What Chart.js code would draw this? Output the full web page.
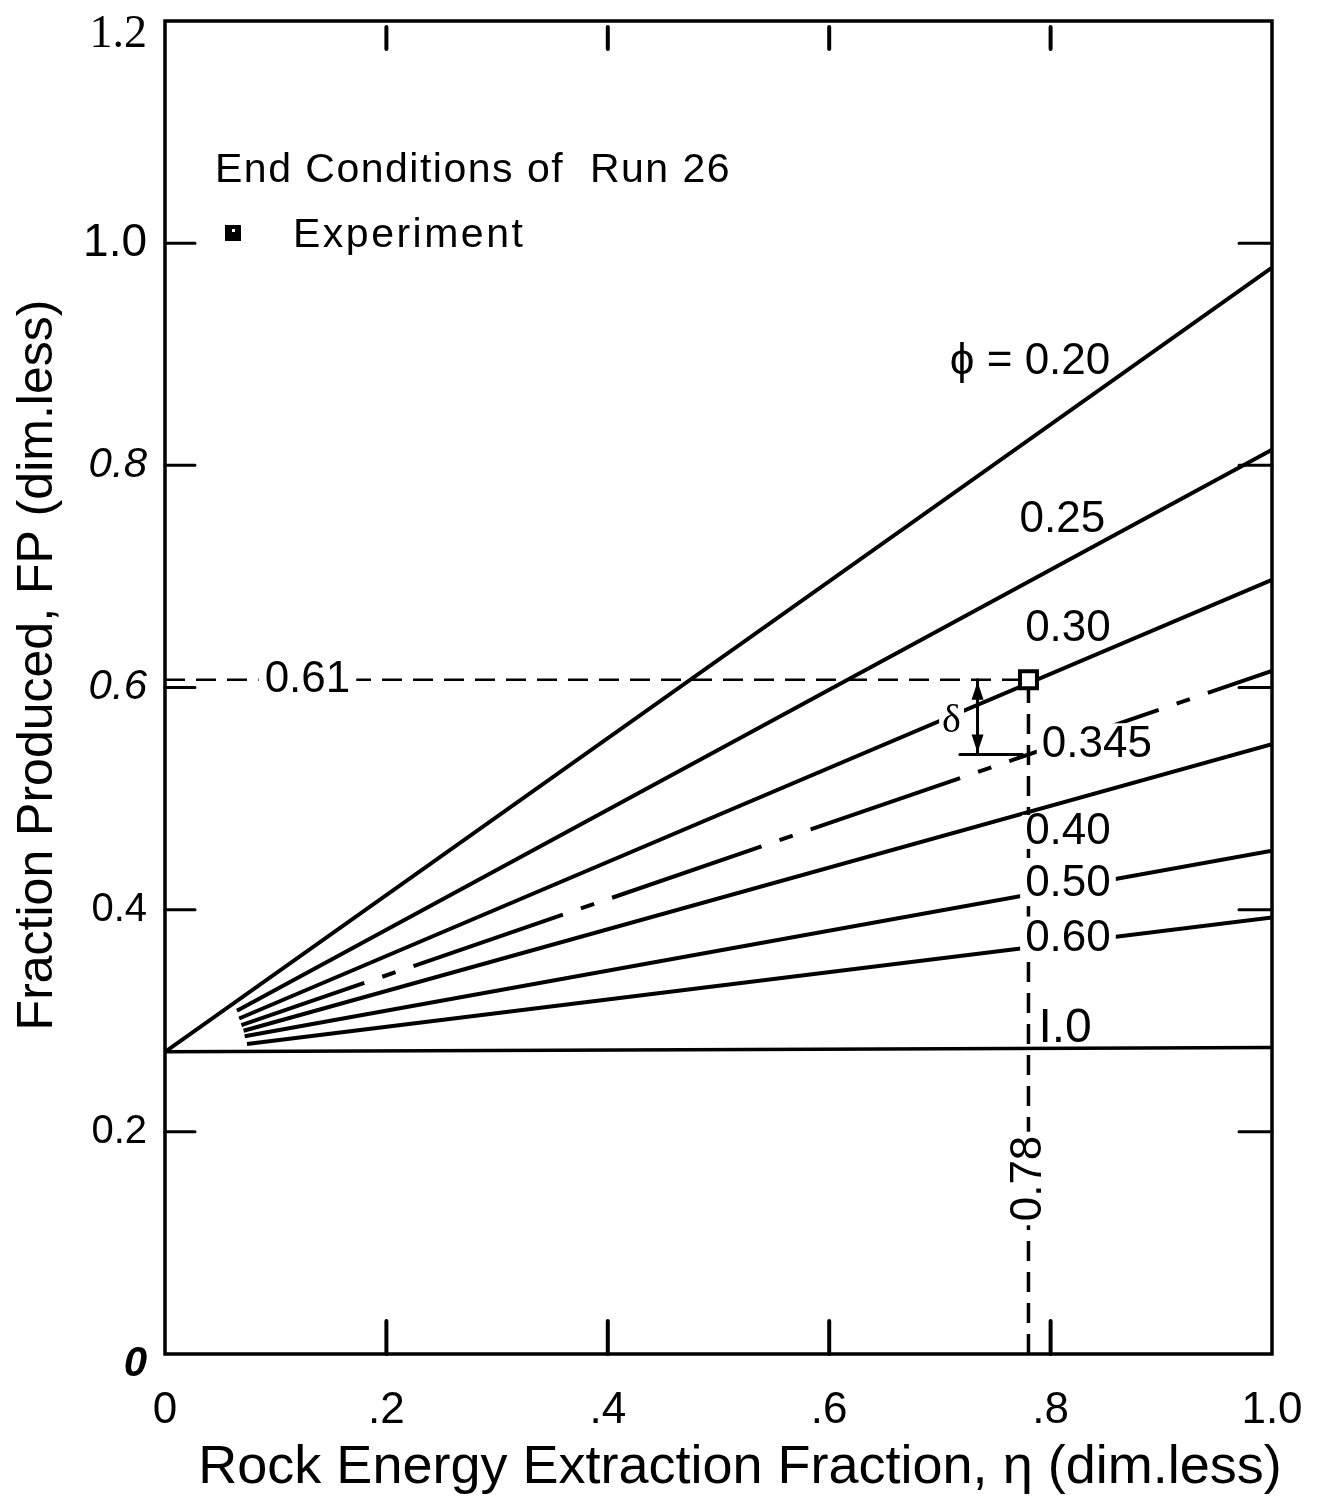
<!DOCTYPE html>
<html>
<head>
<meta charset="utf-8">
<script src="https://cdn.jsdelivr.net/npm/chart.js@4.4.0/dist/chart.umd.min.js"></script>
<style>
  html, body { margin: 0; padding: 0; background: #fff; }
  #wrap { width: 1326px; height: 1505px; position: relative; }
</style>
</head>
<body>
<div id="wrap"><canvas id="chart"></canvas></div>
<script>
// porosity curves: straight lines from start point to end point (x = eta, y = FP)
const phiLabels = ['\u03d5 = 0.20', '0.25', '0.30', '0.345', '0.40', '0.50', '0.60', '1.0'];
const startX = [0, 0.065, 0.067, 0.069, 0.071, 0.072, 0.074, 0];
const startY = [0.272, 0.309, 0.302, 0.296, 0.291, 0.286, 0.279, 0.272];
const endX = [1, 1, 1, 1, 1, 1, 1, 1];
const endY = [0.978, 0.814, 0.697, 0.615, 0.549, 0.453, 0.393, 0.276];
// where each curve label sits (left edge, vertical middle)
const labelX = [0.709, 0.772, 0.777, 0.792, 0.777, 0.777, 0.777, 0.789];
const labelY = [0.893, 0.751, 0.653, 0.548, 0.470, 0.423, 0.374, 0.293];

// experiment end point of run 26
const expX = [0.78];
const expY = [0.607];
const expText = ['0.78', '0.61'];

const xTicks = [0, 0.2, 0.4, 0.6, 0.8, 1.0];
const xTickText = ['0', '.2', '.4', '.6', '.8', '1.0'];
const yTicks = [0, 0.2, 0.4, 0.6, 0.8, 1.0, 1.2];
const yTickText = ['0', '0.2', '0.4', '0.6', '0.8', '1.0', '1.2'];

const xTitle = 'Rock Energy Extraction Fraction, \u03b7 (dim.less)';
const yTitle = 'Fraction Produced, FP (dim.less)';

const SANS = 'Liberation Sans, Arial, sans-serif';
const NARROW = 'Liberation Sans Narrow, ' + SANS;
const yTickFonts = [
  { family: SANS, size: 42, style: 'italic', weight: 'bold', lineHeight: 0.5 },
  { family: SANS, size: 40 },
  { family: SANS, size: 40 },
  { family: SANS, size: 42, style: 'italic' },
  { family: SANS, size: 42, style: 'italic' },
  { family: NARROW, size: 46 },
  { family: 'Liberation Serif, serif', size: 46, lineHeight: 0.62 }
];

const curveSets = phiLabels.map((name, i) => ({
  label: name,
  data: [{ x: startX[i], y: startY[i] }, { x: endX[i], y: endY[i] }],
  showLine: true,
  borderColor: '#000',
  borderWidth: i === 7 ? 3.5 : 4,
  borderDash: i === 3 ? [158, 19, 14, 19] : [],
  borderDashOffset: i === 3 ? 28 : 0,
  pointRadius: 0,
  order: 2
}));

const guideSets = [
  {
    label: 'guide FP',
    data: [{ x: 0, y: expY[0] }, { x: expX[0], y: expY[0] }],
    showLine: true, borderColor: '#000', borderWidth: 2.5, borderDash: [20, 11],
    pointRadius: 0, order: 3
  },
  {
    label: 'guide eta',
    data: [{ x: expX[0], y: 0 }, { x: expX[0], y: expY[0] }],
    showLine: true, borderColor: '#000', borderWidth: 3.5, borderDash: [20, 11],
    pointRadius: 0, order: 3
  }
];

const expSet = {
  label: 'Experiment',
  data: expX.map((v, i) => ({ x: v, y: expY[i] })),
  showLine: false,
  pointStyle: 'rect',
  pointRadius: 12,
  pointBackgroundColor: '#fff',
  pointBorderColor: '#000',
  pointBorderWidth: 4,
  order: 0
};

function textBox(ctx, text, x, y, font, pad, h) {
  h = h || 44;
  ctx.font = font;
  const w = ctx.measureText(text).width;
  ctx.fillStyle = '#fff';
  ctx.fillRect(x - pad, y - h / 2, w + 2 * pad, h);
  ctx.fillStyle = '#000';
  ctx.fillText(text, x, y);
}

const overlay = {
  id: 'overlay',
  afterDatasetsDraw(chart) {
    const { ctx, chartArea: a, scales: { x, y } } = chart;
    ctx.save();
    ctx.strokeStyle = '#000';
    ctx.fillStyle = '#000';
    ctx.lineCap = 'round';

    // frame
    ctx.lineWidth = 3.5;
    ctx.strokeRect(a.left, a.top, a.right - a.left, a.bottom - a.top);

    // inward tick marks
    ctx.lineWidth = 3;
    yTicks.slice(1, 6).forEach(v => {
      const py = y.getPixelForValue(v);
      ctx.beginPath();
      ctx.moveTo(a.left, py); ctx.lineTo(a.left + 30, py);
      ctx.moveTo(a.right - 33, py); ctx.lineTo(a.right, py);
      ctx.stroke();
    });
    ctx.lineWidth = 4;
    xTicks.slice(1, 5).forEach(v => {
      const px = x.getPixelForValue(v);
      ctx.beginPath();
      ctx.moveTo(px, a.top + 6); ctx.lineTo(px, a.top + 28);
      ctx.moveTo(px, a.bottom - 33); ctx.lineTo(px, a.bottom);
      ctx.stroke();
    });

    // curve labels
    ctx.textAlign = 'left';
    ctx.textBaseline = 'middle';
    const lf = '44px ' + SANS;
    phiLabels.forEach((t, i) => {
      const px = x.getPixelForValue(labelX[i]);
      const py = y.getPixelForValue(labelY[i]);
      const text = i === 7 ? 'I.0' : t;
      if (i === 3 || i === 5 || i === 6) {
        textBox(ctx, text, px, py, lf, 5);
      } else if (i === 4) {
        textBox(ctx, text, px, py, lf, 3, 34);
      } else {
        ctx.font = i === 7 ? '48px ' + SANS : lf;
        ctx.fillText(text, px, py);
      }
    });

    // guide labels 0.61 and 0.78
    textBox(ctx, expText[1], x.getPixelForValue(0.09), y.getPixelForValue(expY[0]), lf, 6);
    ctx.save();
    ctx.translate(x.getPixelForValue(expX[0]), y.getPixelForValue(0.158));
    ctx.rotate(-Math.PI / 2);
    ctx.textAlign = 'center';
    ctx.font = lf;
    const w78 = ctx.measureText(expText[0]).width;
    ctx.fillStyle = '#fff';
    ctx.fillRect(-w78 / 2 - 4, -21, w78 + 8, 42);
    ctx.fillStyle = '#000';
    ctx.fillText(expText[0], 0, 0);
    ctx.restore();

    // delta: gap between 0.30 experiment point and the 0.345 curve
    const dLow = startY[3] + (expX[0] - startX[3]) / (endX[3] - startX[3]) * (endY[3] - startY[3]);
    const dx = x.getPixelForValue(0.734);
    const yTop = y.getPixelForValue(expY[0]);
    const yBot = y.getPixelForValue(dLow);
    ctx.lineWidth = 3;
    ctx.beginPath();
    ctx.moveTo(dx, yTop); ctx.lineTo(dx, yBot);
    ctx.moveTo(x.getPixelForValue(0.718), yBot); ctx.lineTo(x.getPixelForValue(expX[0]) - 6, yBot);
    ctx.stroke();
    ctx.beginPath();
    ctx.moveTo(dx, yTop + 2); ctx.lineTo(dx - 6, yTop + 20); ctx.lineTo(dx + 6, yTop + 20); ctx.closePath();
    ctx.moveTo(dx, yBot - 2); ctx.lineTo(dx - 6, yBot - 20); ctx.lineTo(dx + 6, yBot - 20); ctx.closePath();
    ctx.fill();
    textBox(ctx, '\u03b4', x.getPixelForValue(0.702), y.getPixelForValue(0.569), '40px Liberation Serif, serif', 3);

    // legend block
    ctx.fillStyle = '#000';
    ctx.font = '41px ' + SANS;
    ctx.letterSpacing = '1.5px';
    ctx.fillText('End Conditions of  Run 26', 215, 171);
    ctx.letterSpacing = '2.5px';
    ctx.fillText('Experiment', 293, 236);
    ctx.letterSpacing = '0px';
    ctx.fillRect(225, 225, 16, 16);
    ctx.fillStyle = '#fff';
    ctx.fillRect(232, 229, 3, 3);

    // axis titles
    ctx.fillStyle = '#000';
    ctx.textAlign = 'center';
    ctx.font = '54px ' + NARROW;
    ctx.fillText(xTitle, 740, 1468);
    ctx.save();
    ctx.translate(38, 665);
    ctx.rotate(-Math.PI / 2);
    ctx.font = '50px ' + SANS;
    ctx.fillText(yTitle, 0, 0);
    ctx.restore();
    ctx.restore();
  }
};

new Chart(document.getElementById('chart'), {
  type: 'scatter',
  data: { datasets: [expSet, ...curveSets, ...guideSets] },
  options: {
    responsive: true,
    maintainAspectRatio: false,
    animation: false,
    layout: { padding: { top: 21, right: 54, left: 0, bottom: 0 } },
    plugins: { legend: { display: false }, tooltip: { enabled: false } },
    scales: {
      x: {
        type: 'linear', min: 0, max: 1,
        afterBuildTicks: s => { s.ticks = xTicks.map(v => ({ value: v })); },
        afterFit: s => { s.height = 151; s.paddingLeft = 0; s.paddingRight = 0; },
        grid: { display: false, drawTicks: false },
        border: { display: false },
        ticks: {
          padding: 30, color: '#000', maxRotation: 0, autoSkip: false,
          callback: (v, i) => xTickText[i],
          font: { family: SANS, size: 44 }
        },
        title: { display: false, text: xTitle }
      },
      y: {
        type: 'linear', min: 0, max: 1.2,
        afterBuildTicks: s => { s.ticks = yTicks.map(v => ({ value: v })); },
        afterFit: s => { s.width = 165; s.paddingTop = 0; s.paddingBottom = 0; },
        grid: { display: false, drawTicks: false },
        border: { display: false },
        ticks: {
          padding: 18, color: '#000',
          // the end labels sit a little below their tick in the original
          callback: (v, i) => (i === 0 || i === 6) ? ['', yTickText[i]] : yTickText[i],
          font: ctx => yTickFonts[ctx.index]
        },
        title: { display: false, text: yTitle }
      }
    }
  },
  plugins: [overlay]
});
</script>
</body>
</html>
